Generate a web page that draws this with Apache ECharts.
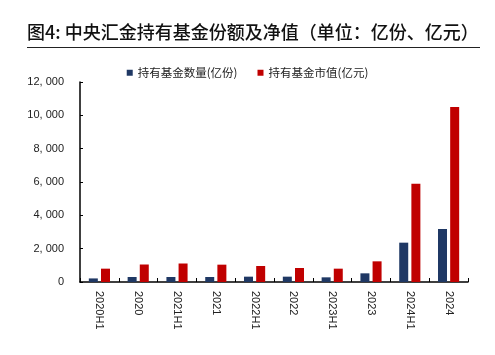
<!DOCTYPE html>
<html>
<head>
<meta charset="utf-8">
<script src="https://cdn.jsdelivr.net/npm/echarts@6/dist/echarts.min.js"></script>
<style>
  html, body { margin: 0; padding: 0; background: #fff; }
  #title { position: absolute; left: 27px; top: 18px; font-family: "Noto Sans CJK SC", sans-serif; font-size: 18px; font-weight: 500; color: #111; }
  #rule { position: absolute; left: 27px; top: 47px; width: 453px; height: 0; border-top: 1.5px solid #222; }
  #chart { position: absolute; left: 0; top: 0; width: 495px; height: 355px; }
</style>
</head>
<body>
<div id="chart"></div>
<div id="title">图4: 中央汇金持有基金份额及净值（单位：亿份、亿元）</div>
<div id="rule"></div>
<script>
const categories = ['2020H1', '2020', '2021H1', '2021', '2022H1', '2022', '2023H1', '2023', '2024H1', '2024'];
const fundShares = [215, 300, 300, 300, 320, 320, 280, 520, 2360, 3180];
const fundValue = [800, 1050, 1110, 1040, 960, 840, 800, 1240, 5900, 10500];
const seriesNames = ['持有基金数量(亿份)', '持有基金市值(亿元)'];

const chart = echarts.init(document.getElementById('chart'));
const font = '"Noto Sans CJK SC", "Liberation Sans", sans-serif';
chart.setOption({
    animation: false,
    color: ['#1f3864', '#c00000'],
    textStyle: {fontFamily: font},
    legend: {
        top: 62,
        left: 'center',
        itemWidth: 6,
        itemHeight: 6,
        itemGap: 20,
        icon: 'rect',
        textStyle: {fontSize: 11.5, color: '#222', fontFamily: font},
        data: seriesNames
    },
    grid: {left: 80, right: 27, top: 82, bottom: 73},
    xAxis: {
        type: 'category',
        data: categories,
        axisLine: {lineStyle: {color: '#000', width: 1.5}},
        axisTick: {show: true, inside: true, length: 4, lineStyle: {color: '#000'}},
        axisLabel: {rotate: -90, fontSize: 11, color: '#222', margin: 9, fontFamily: '"Liberation Sans", sans-serif'}
    },
    yAxis: {
        type: 'value',
        min: 0,
        max: 12000,
        interval: 2000,
        splitLine: {show: false},
        axisLine: {show: true, lineStyle: {color: '#000', width: 1.5}},
        axisTick: {show: true, inside: true, length: 3, lineStyle: {color: '#000'}},
        axisLabel: {
            fontSize: 11, color: '#222', margin: 16, fontFamily: '"Liberation Sans", sans-serif',
            formatter: v => v === 0 ? '0' : v.toLocaleString('en-US').replace(',', ', ')
        }
    },
    series: [
        {name: seriesNames[0], type: 'bar', data: fundShares, barWidth: 9, barGap: '35%'},
        {name: seriesNames[1], type: 'bar', data: fundValue, barWidth: 9}
    ]
});
</script>
</body>
</html>
